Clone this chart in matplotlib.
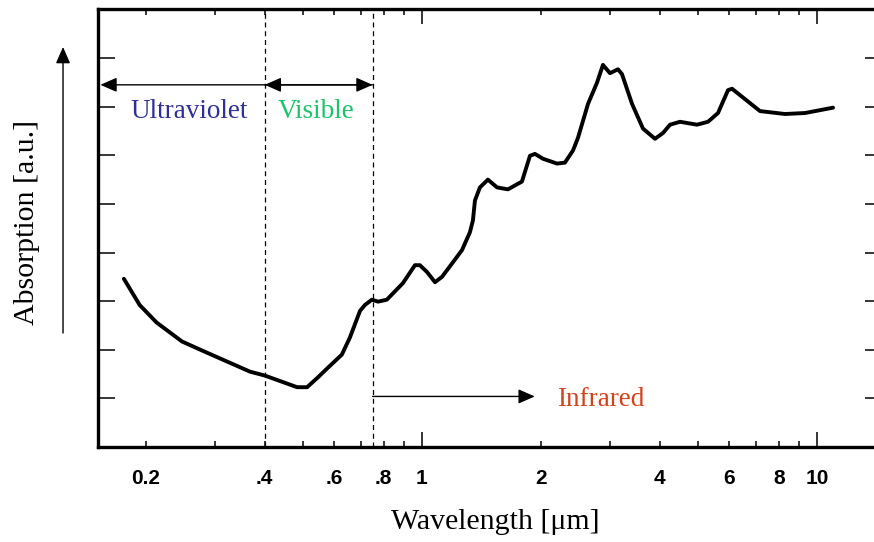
import numpy as np
import matplotlib
matplotlib.use("Agg")
import matplotlib.pyplot as plt
from matplotlib.ticker import FixedLocator, NullFormatter

# absorption spectrum, wavelength in um vs absorption in arbitrary units
wavelength = [0.176, 0.193, 0.213, 0.247, 0.282, 0.367, 0.400, 0.483, 0.512, 0.545,
              0.578, 0.627, 0.657, 0.697, 0.717, 0.747, 0.774, 0.815, 0.895, 0.960,
              0.988, 1.030, 1.079, 1.124, 1.198, 1.263, 1.323, 1.346, 1.362, 1.402,
              1.469, 1.549, 1.651, 1.791, 1.877, 1.932, 2.024, 2.197, 2.301, 2.412,
              2.483, 2.633, 2.773, 2.872, 2.992, 3.135, 3.209, 3.402, 3.627, 3.890,
              4.076, 4.246, 4.500, 4.969, 5.298, 5.616, 5.953, 6.093, 7.173, 8.299,
              9.324, 10.98]
absorption = [3.46, 2.92, 2.56, 2.17, 1.96, 1.55, 1.47, 1.23, 1.23, 1.43,
              1.63, 1.90, 2.25, 2.80, 2.92, 3.03, 2.99, 3.03, 3.37, 3.74,
              3.74, 3.60, 3.39, 3.50, 3.80, 4.05, 4.42, 4.66, 5.07, 5.34,
              5.50, 5.34, 5.30, 5.46, 5.99, 6.03, 5.93, 5.83, 5.85, 6.10,
              6.36, 7.06, 7.49, 7.86, 7.69, 7.77, 7.67, 7.06, 6.55, 6.34,
              6.46, 6.63, 6.69, 6.63, 6.69, 6.87, 7.34, 7.37, 6.91, 6.85,
              6.87, 6.98]

uv_edge = 0.4
ir_edge = 0.75
ir_arrow_end = 1.93

major_ticks = [1, 10]
minor_ticks = [0.2, 0.3, 0.4, 0.5, 0.6, 0.7, 0.8, 0.9, 2, 3, 4, 5, 6, 7, 8, 9]
label_pos = [0.2, 0.4, 0.6, 0.8, 1, 2, 4, 6, 8, 10]
label_txt = ["0.2", ".4", ".6", ".8", "1", "2", "4", "6", "8", "10"]
y_ticks = [1, 2, 3, 4, 5, 6, 7, 8]

serif = "Liberation Serif"
sans = "Liberation Sans"

fig = plt.figure(figsize=(8.74, 5.42), dpi=100)
ax = fig.add_axes([0.1127, 0.1753, 0.8965, 0.8072])

ax.plot(wavelength, absorption, color="black", lw=2.8, solid_joinstyle="round",
        solid_capstyle="round", zorder=3)

ax.set_xscale("log")
ax.set_xlim(0.1518, 14.61)
ax.set_ylim(0.0, 9.0)

for s in ax.spines.values():
    s.set_linewidth(2.4)

# x ticks: long at decades, short in between, on top and bottom
ax.xaxis.set_major_locator(FixedLocator(major_ticks))
ax.xaxis.set_minor_locator(FixedLocator(minor_ticks))
ax.xaxis.set_major_formatter(NullFormatter())
ax.xaxis.set_minor_formatter(NullFormatter())
ax.tick_params(axis="x", which="major", direction="in", length=11, width=1.1,
               top=True, bottom=True)
ax.tick_params(axis="x", which="minor", direction="in", length=4.5, width=1.1,
               top=True, bottom=True)
ax.set_yticks(y_ticks)
ax.set_yticklabels([])
ax.tick_params(axis="y", which="major", direction="in", length=12, width=1.1,
               left=True, right=True)

# tick labels drawn as text so the mixed ticks can be labelled freely
for xv, t in zip(label_pos, label_txt):
    ax.text(xv, -0.65, t, ha="center", va="center", fontsize=15,
            fontweight="bold", family=sans)

# region boundaries
for xv in (uv_edge, ir_edge):
    ax.axvline(xv, color="black", lw=0.9, ls=(0, (4, 3)), zorder=2)

arrow = dict(arrowstyle="-|>,head_length=0.5,head_width=0.22", color="black",
             lw=1.0, mutation_scale=20, shrinkA=0, shrinkB=0)
y_band = 7.45
ax.annotate("", xy=(0.1535, y_band), xytext=(uv_edge, y_band), arrowprops=arrow)
ax.annotate("", xy=(uv_edge, y_band), xytext=(ir_edge, y_band), arrowprops=arrow)
ax.annotate("", xy=(ir_edge, y_band), xytext=(uv_edge, y_band), arrowprops=arrow)
ax.annotate("", xy=(ir_arrow_end, 1.04), xytext=(ir_edge, 1.04), arrowprops=arrow)

ax.text(0.258, 6.91, "Ultraviolet", color="#2e3192", fontsize=19.5, family=serif,
        ha="center", va="center")
ax.text(0.539, 6.91, "Visible", color="#1cc46a", fontsize=19.5, family=serif,
        ha="center", va="center")
ax.text(2.83, 0.98, "Infrared", color="#d2431c", fontsize=19.5, family=serif,
        ha="center", va="center")

# axis titles and the arrow beside the y label
fig.text(0.567, 0.037, "Wavelength [μm]", fontsize=21.5, family=serif,
         ha="center", va="center")
fig.text(0.031, 0.59, "Absorption [a.u.]", fontsize=21.5, family=serif,
         ha="center", va="center", rotation=90)
fig.add_artist(matplotlib.patches.FancyArrowPatch(
    (0.0721, 0.3856), (0.0721, 0.9133), transform=fig.transFigure,
    arrowstyle="-|>,head_length=0.5,head_width=0.22", mutation_scale=20,
    color="black", lw=1.0, shrinkA=0, shrinkB=0))

fig.savefig("out.png", dpi=100)
